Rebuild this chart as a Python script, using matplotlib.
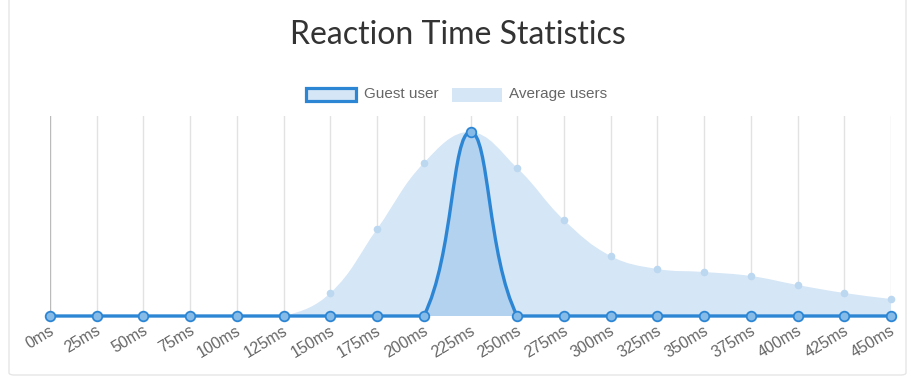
import numpy as np
import matplotlib
matplotlib.use("Agg")
import matplotlib.pyplot as plt
from matplotlib.path import Path
from matplotlib.patches import PathPatch, Rectangle, FancyBboxPatch

# ----------------- Data -----------------
labels = ["0ms", "25ms", "50ms", "75ms", "100ms", "125ms", "150ms", "175ms", "200ms",
          "225ms", "250ms", "275ms", "300ms", "325ms", "350ms", "375ms", "400ms",
          "425ms", "450ms"]
times = [0, 25, 50, 75, 100, 125, 150, 175, 200, 225, 250, 275, 300, 325, 350, 375, 400, 425, 450]
guest_user = [0, 0, 0, 0, 0, 0, 0, 0, 0, 184, 0, 0, 0, 0, 0, 0, 0, 0, 0]
average_users = [0, 0, 0, 0, 0, 0, 23, 87, 153, 184, 148, 96, 60, 47, 44, 40, 31, 23, 17]

W, H = 907, 376
BLUE = "#2d86d4"
AVG_FILL = "#d5e6f6"
GUEST_FILL = (45 / 255, 134 / 255, 212 / 255, 0.2)

# ----------------- Helpers -----------------
def fx(px):
    return px / W

def fy(py):
    return 1 - py / H

X0, X1, YB, YT = 50, 891, 316, 116
XMAX, YMAX = 450, 200
sx = (X1 - X0) / XMAX
sy = (YB - YT) / YMAX


def spline_path(xs, ys, tension=0.4, closed_to_zero=False):
    # chart.js style bezier, distances measured in pixels, control points capped to area
    xs = np.asarray(xs, float)
    ys = np.asarray(ys, float)
    n = len(xs)
    verts = [(xs[0], ys[0])]
    codes = [Path.MOVETO]
    cp_prev, cp_next = [], []
    for i in range(n):
        p = np.array([xs[i], ys[i]])
        a = np.array([xs[max(i - 1, 0)], ys[max(i - 1, 0)]])
        b = np.array([xs[min(i + 1, n - 1)], ys[min(i + 1, n - 1)]])
        d01 = np.hypot((p[0] - a[0]) * sx, (p[1] - a[1]) * sy)
        d12 = np.hypot((b[0] - p[0]) * sx, (b[1] - p[1]) * sy)
        tot = d01 + d12
        s01 = d01 / tot if tot else 0
        s12 = d12 / tot if tot else 0
        fa, fb = tension * s01, tension * s12
        c1 = p - fa * (b - a)
        c2 = p + fb * (b - a)
        c1 = np.clip(c1, [0, 0], [XMAX, YMAX])
        c2 = np.clip(c2, [0, 0], [XMAX, YMAX])
        cp_prev.append(c1)
        cp_next.append(c2)
    for i in range(1, n):
        verts += [tuple(cp_next[i - 1]), tuple(cp_prev[i]), (xs[i], ys[i])]
        codes += [Path.CURVE4] * 3
    if closed_to_zero:
        verts += [(xs[-1], 0), (xs[0], 0), (xs[0], ys[0])]
        codes += [Path.LINETO, Path.LINETO, Path.CLOSEPOLY]
    return Path(verts, codes)


# ----------------- Figure -----------------
fig = plt.figure(figsize=(W / 100, H / 100), dpi=100)
fig.patch.set_facecolor("white")

card = FancyBboxPatch((fx(9), fy(375)), fx(906) - fx(9), fy(-6) - fy(375),
                      boxstyle="round,pad=0,rounding_size=0.006",
                      transform=fig.transFigure, facecolor="white",
                      edgecolor="#e6e6e6", linewidth=1.0, zorder=-5)
fig.patches.append(card)

fig.text(fx(458), fy(35), "Reaction Time Statistics", ha="center", va="center",
         fontsize=23, family="Lato", color="#333333")

ax = fig.add_axes([fx(X0), fy(YB), fx(X1) - fx(X0), fy(YT) - fy(YB)])
ax.set_xlim(0, XMAX)
ax.set_ylim(0, YMAX)
ax.set_facecolor("none")
for s in ax.spines.values():
    s.set_visible(False)
ax.set_yticks([])
ax.set_xticks(times)
ax.set_xticklabels([])
ax.tick_params(axis="x", length=0)
for t in times:
    ax.axvline(t, color="#bbbbbb" if t == 0 else "#e2e2e2", lw=1, zorder=0)

avg_path = spline_path(times, average_users, closed_to_zero=True)
ax.add_patch(PathPatch(avg_path, facecolor=AVG_FILL, edgecolor="none", zorder=1))
ax.scatter(times, average_users, s=30, color="#bcd7f0", zorder=2, clip_on=False, lw=0)

g_fill = spline_path(times, guest_user, closed_to_zero=True)
ax.add_patch(PathPatch(g_fill, facecolor=GUEST_FILL, edgecolor="none", zorder=3))
g_line = spline_path(times, guest_user)
ax.add_patch(PathPatch(g_line, facecolor="none", edgecolor=BLUE, lw=2.4, zorder=4,
                       capstyle="round", joinstyle="round", clip_on=False))
ax.scatter(times, guest_user, s=48, facecolor="#86bbe8", edgecolor=BLUE, lw=1.3,
           zorder=5, clip_on=False)

for t, lab in zip(times, labels):
    px = X0 + t * sx
    fig.text(fx(px - 1), fy(323), lab, rotation=31, rotation_mode="anchor",
             ha="right", va="top", fontsize=11.5, family="Liberation Sans", color="#666666")

# ----------------- Legend -----------------
fig.patches.append(Rectangle((fx(306), fy(101)), fx(356) - fx(306), fy(88) - fy(101),
                             transform=fig.transFigure, facecolor="#d5e6f6",
                             edgecolor=BLUE, lw=2.3))
fig.text(fx(364), fy(94), "Guest user", ha="left", va="center", fontsize=11,
         family="Liberation Sans", color="#666666")
fig.patches.append(Rectangle((fx(452), fy(102)), fx(502) - fx(452), fy(88) - fy(102),
                             transform=fig.transFigure, facecolor=AVG_FILL,
                             edgecolor="none"))
fig.text(fx(509), fy(94), "Average users", ha="left", va="center", fontsize=11,
         family="Liberation Sans", color="#666666")

fig.savefig("out.png", dpi=100)
